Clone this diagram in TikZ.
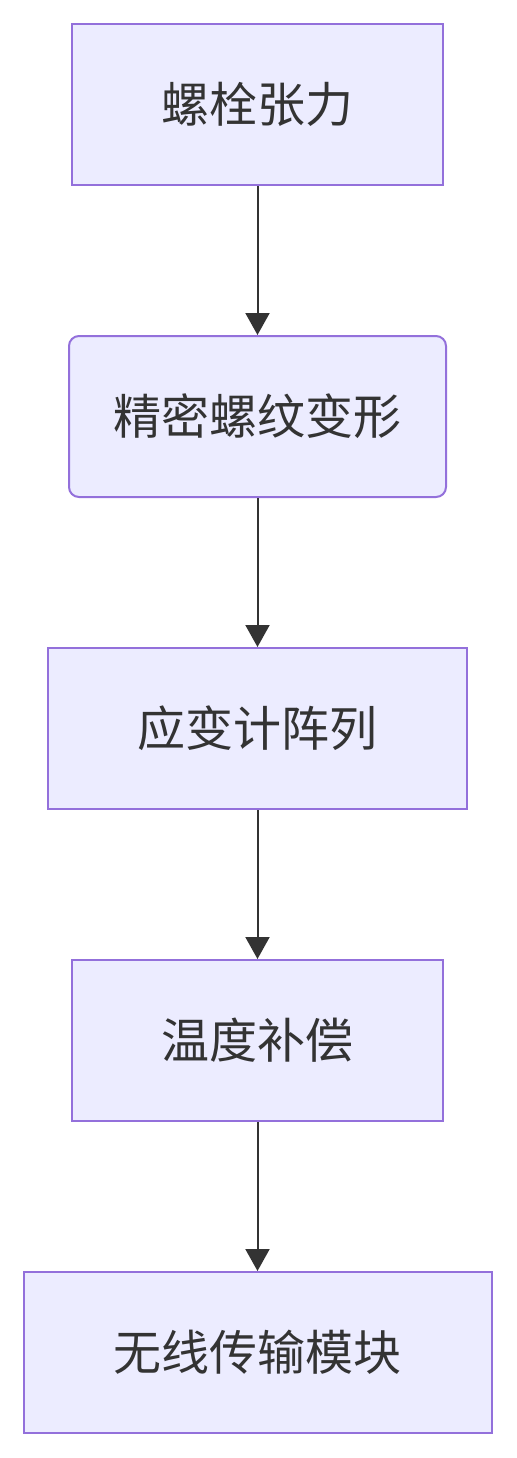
\documentclass[tikz,border=0pt]{standalone}
\usepackage{fontspec}
\newfontfamily\cjk{Noto Sans CJK SC}
\usepackage{tikz}
\usetikzlibrary{arrows.meta}
\definecolor{boxfill}{HTML}{ECECFF}
\definecolor{boxline}{HTML}{9370DB}
\definecolor{ink}{HTML}{333333}

\begin{document}
\begin{tikzpicture}[x=0.5pt,y=-0.5pt,
    block/.style={draw=boxline,fill=boxfill,line width=1pt,minimum height=80.5pt,
      inner sep=0pt,text=ink,font=\cjk\fontsize{24}{28}\selectfont},
    link/.style={-{Triangle[length=11pt,width=12pt]},ink,line width=1pt}]
        \useasboundingbox (0,0) rectangle (516,1458);

        \node[block,minimum width=185.5pt] (tension) at (257.5, 104.5) {螺栓张力};
        \node[block,minimum width=188.5pt,rounded corners=5pt] (thread) at (257.5, 416.5) {精密螺纹变形};
        \node[block,minimum width=209.5pt] (gauge) at (257.5, 728.5) {应变计阵列};
        \node[block,minimum width=185.5pt] (temp) at (257.5, 1040.5) {温度补偿};
        \node[block,minimum width=234pt] (radio) at (257.5, 1352.5) {无线传输模块};

        \draw[link] (tension) to (thread);
        \draw[link] (thread) to (gauge);
        \draw[link] (gauge) to (temp);
        \draw[link] (temp) to (radio);
\end{tikzpicture}
\end{document}
